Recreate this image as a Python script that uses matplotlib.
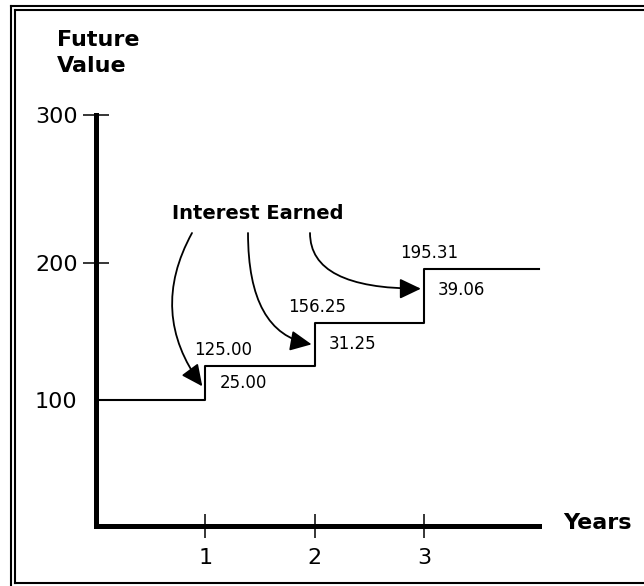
import numpy as np
import matplotlib
matplotlib.use("Agg")
import matplotlib.pyplot as plt
from matplotlib.lines import Line2D
from matplotlib.transforms import offset_copy

# values
years = [0, 1, 2, 3]
future_values = [100.00, 125.00, 156.25, 195.31]
interest = [25.00, 31.25, 39.06]
y_ticks = [100, 200, 300]
x_ticks = [1, 2, 3]

# the value axis of the drawing is not evenly spaced: heights (px above the
# baseline) at which the tick values are drawn
tick_vals = np.array([0.0, 100.0, 200.0, 300.0])
tick_px = np.array([0.0, 126.0, 263.0, 411.0])

W, H = 644, 586
XMAX = 4.05


def _pw(v, xs, ys):
    v = np.asarray(v, dtype=float)
    s0 = (ys[1] - ys[0]) / (xs[1] - xs[0])
    s1 = (ys[-1] - ys[-2]) / (xs[-1] - xs[-2])
    return np.where(v < xs[0], ys[0] + (v - xs[0]) * s0,
                    np.where(v > xs[-1], ys[-1] + (v - xs[-1]) * s1,
                             np.interp(v, xs, ys)))


def fwd(v):
    return _pw(v, tick_vals, tick_px)


def inv(h):
    return _pw(h, tick_px, tick_vals)


def fx(x):
    return x / W


def fy(y):
    return 1 - y / H


fig = plt.figure(figsize=(W / 100, H / 100), dpi=100)
ax = fig.add_axes([fx(96), fy(526), fx(96 + XMAX * 109.3) - fx(96), fy(115) - fy(526)])
ax.set_yscale("function", functions=(fwd, inv))
ax.set_xlim(0, XMAX)
ax.set_ylim(0, 300)

for s in ("top", "right"):
    ax.spines[s].set_visible(False)
for s in ("left", "bottom"):
    ax.spines[s].set_linewidth(3.6)
    ax.spines[s].set_capstyle("projecting")

ax.set_yticks(y_ticks)
ax.set_yticklabels([str(t) for t in y_ticks], fontsize=16)
ax.set_xticks(x_ticks)
ax.set_xticklabels([str(t) for t in x_ticks], fontsize=16)
ax.yaxis.set_minor_locator(matplotlib.ticker.NullLocator())
ax.tick_params(axis="y", direction="inout", length=19.4, width=1.1, pad=3.6)
ax.tick_params(axis="x", direction="inout", length=17, width=1.1, pad=7)
ax.yaxis.get_major_ticks()[0].tick1line.set_visible(False)
ax.patch.set_visible(False)

# staircase of future values
xs = np.append(years, XMAX)
ys = np.append(future_values, future_values[-1])
ax.step(xs, ys, where="post", color="black", lw=1.5, clip_on=False)

# value labels
fv_dx = [-11, -26, -24]
ie_dy = [0, 0, 6]
for i in range(3):
    yr = years[i + 1]
    ax.annotate(f"{future_values[i + 1]:.2f}", xy=(yr, future_values[i + 1]),
                xytext=(fv_dx[i] * 0.72, 16 * 0.72), textcoords="offset points",
                ha="left", va="center", fontsize=12)
    mid = (future_values[i] + future_values[i + 1]) / 2
    ax.annotate(f"{interest[i]:.2f}", xy=(yr, mid),
                xytext=(14 * 0.72, ie_dy[i] * 0.72), textcoords="offset points",
                ha="left", va="center", fontsize=12)

# curved arrows from "Interest Earned"
starts = [(192, 233), (248, 233), (310, 233)]
tip_frac = [0.4, 0.5, 0.64]
styles = ["arc3,rad=0.32", "angle3,angleA=-90,angleB=-10", "angle3,angleA=-90,angleB=0"]
tip_tr = offset_copy(ax.transData, fig=fig, x=-3, y=0, units="dots")
for i in range(3):
    yr = years[i + 1]
    ty = future_values[i] + tip_frac[i] * interest[i]
    ax.annotate("", xy=(yr, ty), xycoords=tip_tr,
                xytext=(starts[i][0], H - starts[i][1]), textcoords="figure pixels",
                arrowprops=dict(arrowstyle="-|>,head_length=0.65,head_width=0.31",
                                mutation_scale=20, color="black", lw=1.3,
                                shrinkA=0, shrinkB=0, connectionstyle=styles[i]))

fig.text(fx(257.5), fy(213.5), "Interest Earned", ha="center", va="center",
         fontsize=14, fontweight="bold")
fig.text(fx(57), fy(30), "Future\nValue", ha="left", va="top",
         fontsize=16, fontweight="bold", linespacing=1.35)
fig.text(fx(563), fy(523), "Years", ha="left", va="center",
         fontsize=16, fontweight="bold")

# double frame on the left and top, single at the bottom
frame = [
    ([11, 11], [6, H]), ([11, W], [6, 6]),
    ([15, 15], [10, 583]), ([15, W], [10, 10]),
    ([15, W], [583, 583]),
]
for lx, ly in frame:
    fig.add_artist(Line2D([fx(v) for v in lx], [fy(v) for v in ly],
                          transform=fig.transFigure, color="black", lw=1.5))

fig.savefig("out.png", dpi=100)
